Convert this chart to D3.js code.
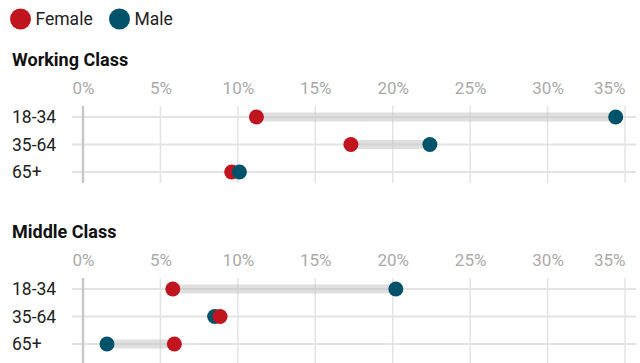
<!DOCTYPE html>
<html>
<head>
<meta charset="utf-8">
<script src="https://cdn.jsdelivr.net/npm/d3@7"></script>
<style>
  body { margin: 0; background: #fff; }
  svg { display: block; font-family: Roboto, "Noto Sans", sans-serif; }
</style>
</head>
<body>
<svg width="640" height="363"></svg>
<script>
/* Data */
var groups = ["Working Class", "Middle Class"];
var ages = ["18-34", "35-64", "65+"];
var femaleWorking = [11.2, 17.3, 9.6];
var maleWorking = [34.4, 22.4, 10.1];
var femaleMiddle = [5.8, 8.85, 5.9];
var maleMiddle = [20.2, 8.5, 1.55];
var tickValues = [0, 5, 10, 15, 20, 25, 30, 35];
var seriesNames = ["Female", "Male"];
var seriesColors = ["#c0141e", "#00536b"];

var femaleByGroup = [femaleWorking, femaleMiddle];
var maleByGroup = [maleWorking, maleMiddle];

/* Scales */
var svg = d3.select("svg");
var x = d3.scaleLinear().domain([0, 35]).range([83, 625]);
var y = d3.scalePoint().domain(ages).range([0, 55]);
var panelY = d3.scalePoint().domain(groups).range([117, 289]);
var color = d3.scaleOrdinal().domain(seriesNames).range(seriesColors);

/* Legend */
var legend = svg.append("g").selectAll("g")
    .data(seriesNames)
    .enter().append("g")
    .attr("transform", function(d, i){ return "translate(" + [20.5, 119.5][i] + ",19)"; });
legend.append("circle").attr("r", 10.5).attr("fill", function(d){ return color(d); });
legend.append("text")
    .attr("x", 15).attr("y", 6)
    .style("font-size", "17.5px").style("fill", "#222")
    .text(function(d){ return d; });

/* Panels */
groups.forEach(function(group, gi){
    var top = panelY(group);
    var g = svg.append("g").attr("transform", "translate(0," + top + ")");

    // Title
    g.append("text")
        .attr("x", 12).attr("y", -51)
        .style("font-size", "18px").style("font-weight", "bold").style("fill", "#111")
        .text(group);

    // Tick labels via axis
    var axis = g.append("g")
        .attr("transform", "translate(0,-23)")
        .call(d3.axisTop(x).tickValues(tickValues).tickSize(0).tickFormat(function(d){ return d + "%"; }));
    axis.select(".domain").remove();
    axis.selectAll("text")
        .attr("y", 0).attr("dy", 0)
        .style("font-family", "Roboto, 'Noto Sans', sans-serif")
        .style("font-size", "17px").style("fill", "#aaa")
        .attr("text-anchor", function(d){ return d === 35 ? "end" : "middle"; });

    // Vertical grid lines
    g.selectAll(".vgrid")
        .data(tickValues.filter(function(d){ return d > 0; }))
        .enter().append("line")
        .attr("x1", function(d){ return x(d); }).attr("x2", function(d){ return x(d); })
        .attr("y1", -11).attr("y2", gi === 0 ? 66 : 80)
        .style("stroke", "#e3e3e3").style("stroke-width", 1.5);

    // Row lines
    g.selectAll(".row")
        .data(ages)
        .enter().append("line")
        .attr("x1", 72).attr("x2", 636)
        .attr("y1", function(d){ return y(d); }).attr("y2", function(d){ return y(d); })
        .style("stroke", "#e3e3e3").style("stroke-width", 2);

    // Zero line
    g.append("line")
        .attr("x1", x(0)).attr("x2", x(0))
        .attr("y1", -11).attr("y2", gi === 0 ? 66 : 80)
        .style("stroke", "#c8c8c8").style("stroke-width", 2.5);

    // Row labels
    g.selectAll(".label")
        .data(ages)
        .enter().append("text")
        .attr("x", 12).attr("y", function(d){ return y(d) + 6; })
        .style("font-size", "17.5px").style("fill", "#222")
        .text(function(d){ return d; });

    var rows = ages.map(function(age, i){
        return { age: age, female: femaleByGroup[gi][i], male: maleByGroup[gi][i] };
    });

    // Connecting bars
    g.selectAll(".bar")
        .data(rows)
        .enter().append("line")
        .attr("x1", function(d){ return x(d.female); })
        .attr("x2", function(d){ return x(d.male); })
        .attr("y1", function(d){ return y(d.age); }).attr("y2", function(d){ return y(d.age); })
        .style("stroke", "#c4c4c4").style("stroke-opacity", 0.55).style("stroke-width", 9);

    // Dots: smaller value first so the larger sits on top
    rows.forEach(function(d){
        var pts = [{ s: "Female", v: d.female }, { s: "Male", v: d.male }]
            .sort(function(a, b){ return a.v - b.v; });
        g.selectAll(null)
            .data(pts)
            .enter().append("circle")
            .attr("cx", function(p){ return x(p.v); })
            .attr("cy", y(d.age))
            .attr("r", 7.5)
            .attr("fill", function(p){ return color(p.s); });
    });
});
</script>
</body>
</html>
